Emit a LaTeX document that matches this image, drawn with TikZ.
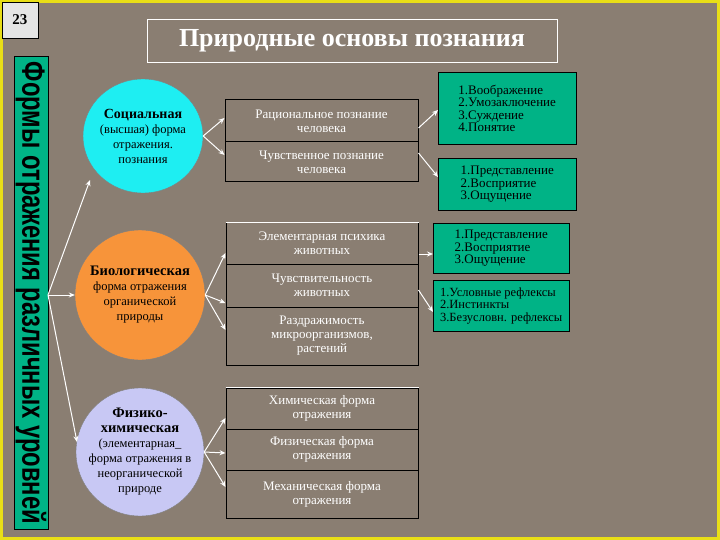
\documentclass[tikz,border=0pt]{standalone}
\usepackage{fontspec}
\setmainfont{Liberation Serif}
\setsansfont{Liberation Sans}
\usetikzlibrary{arrows.meta,shapes.geometric}
\definecolor{bg}{HTML}{8A7E72}
\definecolor{tg}{HTML}{00B386}
\definecolor{cy}{HTML}{1EEEF2}
\definecolor{orn}{HTML}{F7943A}
\definecolor{lav}{HTML}{C8C8F4}
\tikzset{
 ar/.style={draw=white,line width=1pt,-{Stealth[length=6pt,width=5pt]}},
 bx/.style={draw=black,line width=1pt,text=white,align=center,font=\fontsize{13}{14}\selectfont},
 gb/.style={draw=black,fill=tg,align=left,anchor=north west,inner sep=2pt,font=\fontsize{13}{12.5}\selectfont},
 el/.style={ellipse,draw=gray,align=center,font=\fontsize{12.5}{15}\selectfont,inner sep=-8pt},
}
\begin{document}
\begin{tikzpicture}[x=1pt,y=-1pt]
\useasboundingbox (0,0) rectangle (720,540);
\fill[yellow!90!black] (0,0) rectangle (720,540);
\fill[bg] (3,3) rectangle (717,537);
\node[draw=black,fill=gray!20,minimum width=36pt,minimum height=36pt,font=\bfseries\fontsize{15}{15}\selectfont] (num) at (20,20) {23};
\node[draw=white,thin,minimum width=410pt,minimum height=43pt,text=white,font=\bfseries\fontsize{26}{28}\selectfont] (title) at (352,41) {Природные основы познания};
\node[draw=black,fill=tg,minimum width=34pt,minimum height=473pt] (bar) at (31,293) {};
\node[rotate=-90,font=\sffamily\bfseries] (bart) at (31,293) {\resizebox{462pt}{24pt}{Формы отражения различных уровней}};
% ellipses
\node[el,fill=cy,minimum width=120pt,minimum height=114pt] (soc) at (143,136) {\textbf{\fontsize{14}{15}\selectfont Социальная}\\(высшая) форма\\отражения.\\познания};
\node[el,fill=orn,minimum width=130pt,minimum height=130pt] (bio) at (140,295) {\textbf{\fontsize{14.5}{16}\selectfont Биологическая}\\форма отражения\\органической\\природы};
\node[el,fill=lav,minimum width=128pt,minimum height=128pt] (phy) at (140,452) {\textbf{\fontsize{14.5}{16}\selectfont Физико-}\\\textbf{\fontsize{14.5}{16}\selectfont химическая}\\(элементарная\_\\форма отражения в\\неорганической\\природе};
% boxes
\node[bx,minimum width=193pt,minimum height=42pt] (r1) at (321.5,121) {Рациональное познание\\человека};
\node[bx,minimum width=193pt,minimum height=40pt] (r2) at (321.5,162) {Чувственное познание\\человека};
\node[bx,minimum width=192pt,minimum height=41pt] (b1) at (322,243.5) {Элементарная психика\\животных};
\node[bx,minimum width=192pt,minimum height=43pt] (b2) at (322,285.5) {Чувствительность\\животных};
\node[bx,minimum width=192pt,minimum height=58pt] (b3) at (322,336) {Раздражимость\\микроорганизмов,\\растений};
\draw[white,line width=1pt] (b1.north west) -- (b1.north east);
\node[bx,minimum width=192pt,minimum height=41pt] (p1) at (322,408.5) {Химическая форма\\отражения};
\node[bx,minimum width=192pt,minimum height=41pt] (p2) at (322,449.5) {Физическая форма\\отражения};
\node[bx,minimum width=192pt,minimum height=48pt] (p3) at (322,494) {Механическая форма\\отражения};
\draw[white,line width=1pt] (p1.north west) -- (p1.north east);
% green boxes
\node[gb,minimum width=138pt,minimum height=72pt] (g1) at (438,72) {1.Воображение\\2.Умозаключение\\3.Суждение\\4.Понятие};
\node[gb,minimum width=138pt,minimum height=52pt] (g2) at (438,158) {1.Представление\\2.Восприятие\\3.Ощущение};
\node[gb,minimum width=136pt,minimum height=50pt,inner xsep=14pt] (g3) at (433,223) {1.Представление\\2.Восприятие\\3.Ощущение};
\node[gb,minimum width=136pt,minimum height=51pt,inner xsep=0.5pt,font=\fontsize{12.5}{12.5}\selectfont] (g4) at (433,280) {1.Условные рефлексы\\2.Инстинкты\\3.Безусловн. рефлексы};
% arrows
\coordinate (fan) at (48,295);
\draw[ar] (fan) -- (90,180);
\draw[ar] (fan) -- (bio.west);
\draw[ar] (fan) -- (77,442);
\draw[ar] (soc.east) -- (r1.west |- 0,118);
\draw[ar] (soc.east) -- (r2.west |- 0,155);
\draw[ar] (r1.east |- 0,128) -- (g1.west |- 0,110);
\draw[ar] (r2.east |- 0,153) -- (g2.west |- 0,177);
\draw[ar] (bio.east) -- (b1.west |- 0,253);
\draw[ar] (bio.east) -- (b2.west |- 0,303);
\draw[ar] (bio.east) -- (b3.west |- 0,330);
\draw[ar] (b1.east |- 0,254) -- (g3.west |- 0,254);
\draw[ar] (b2.east |- 0,290) -- (g4.west |- 0,312);
\draw[ar] (phy.east) -- (p1.west |- 0,418);
\draw[ar] (phy.east) -- (p2.west |- 0,453);
\draw[ar] (phy.east) -- (p3.west |- 0,487);
\end{tikzpicture}
\end{document}
